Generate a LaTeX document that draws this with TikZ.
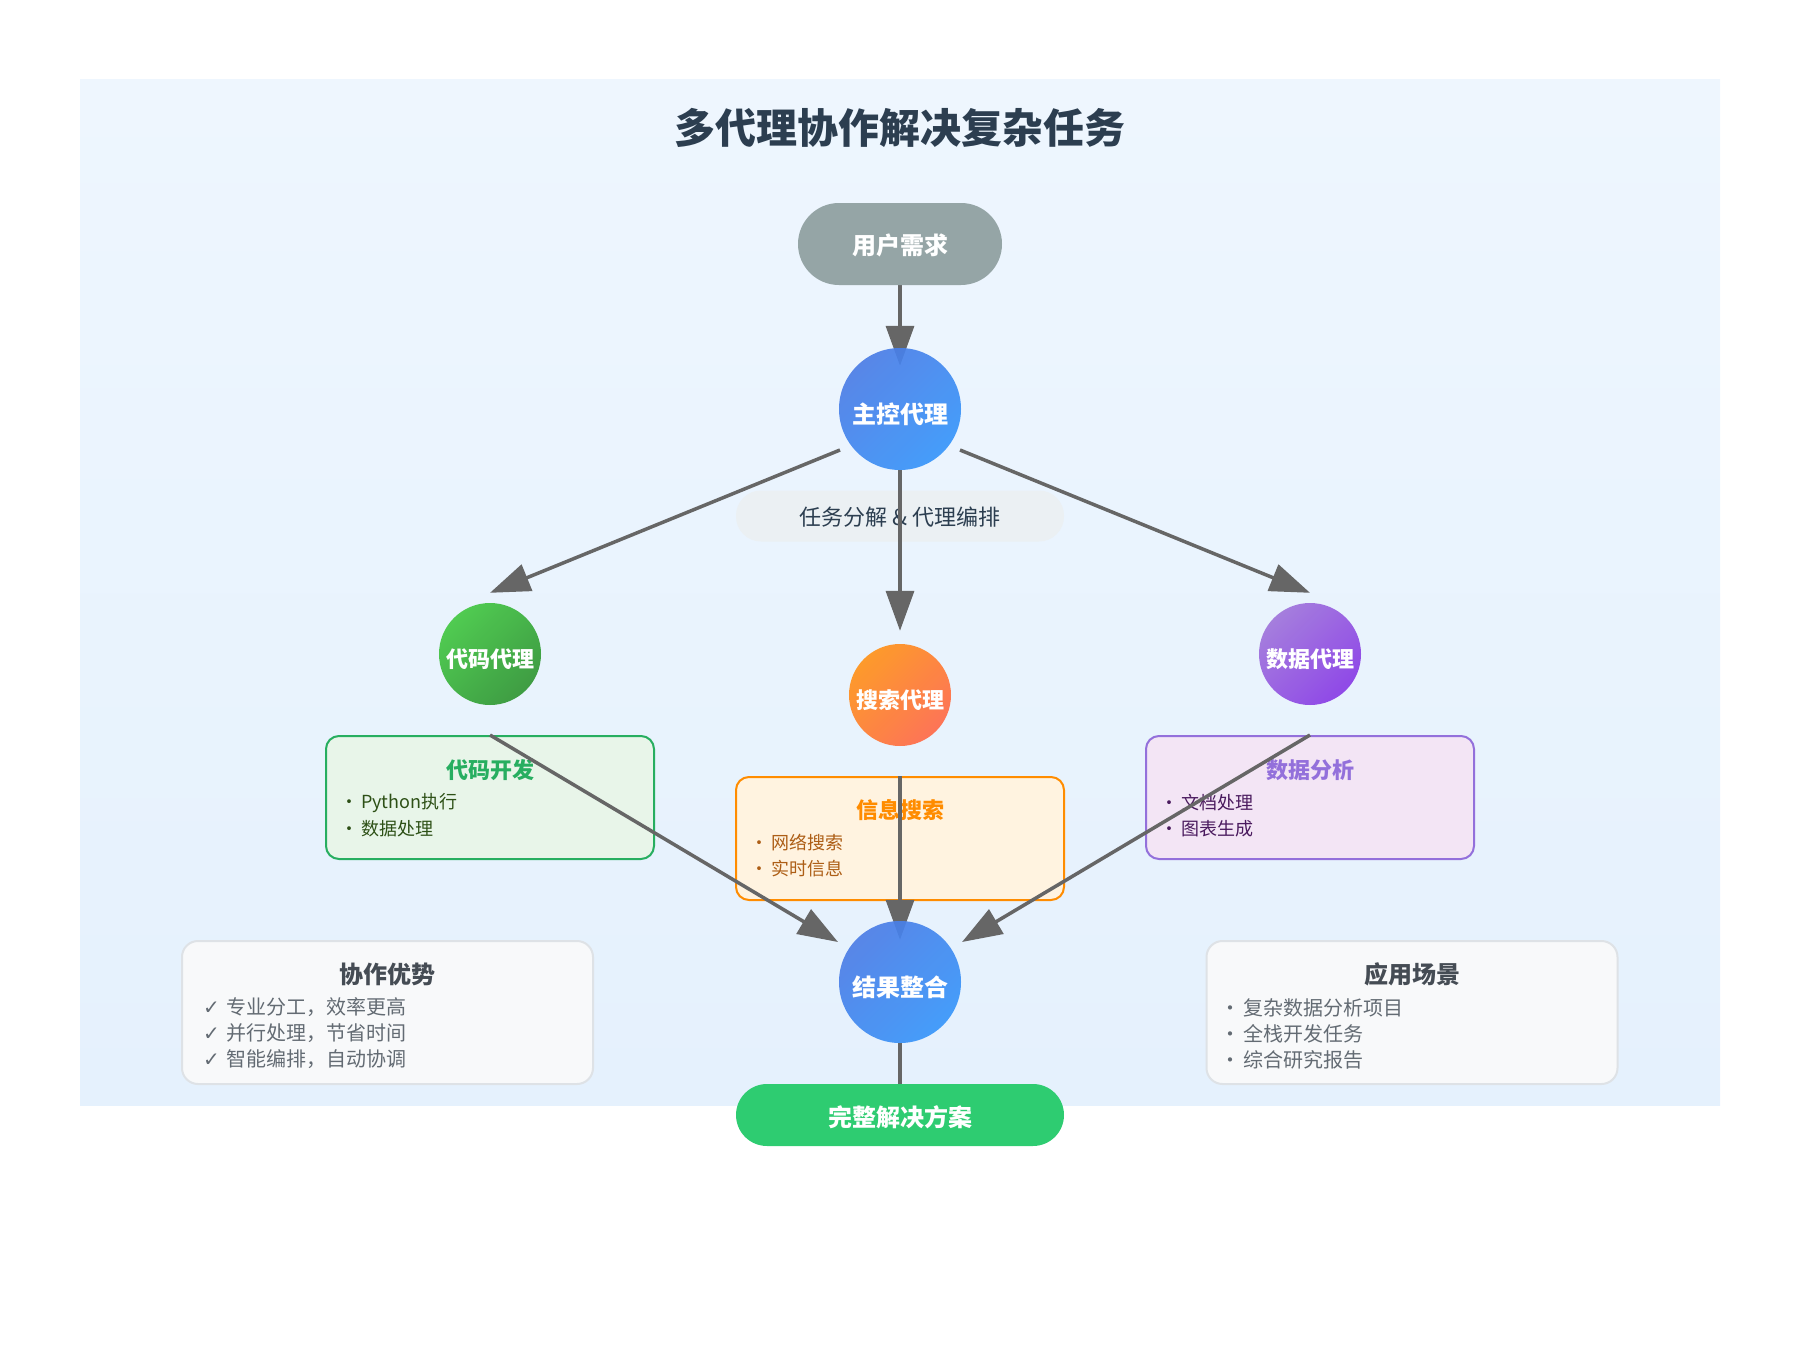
\documentclass[tikz,border=0pt]{standalone}
\usepackage{fontspec}
\setmainfont{Noto Sans CJK SC}
\newfontfamily\symfont{DejaVu Sans}
\usetikzlibrary{arrows.meta,calc}
\pgfdeclarelayer{bglayer}
\pgfdeclarelayer{boxlayer}
\pgfdeclarelayer{linelayer}
\pgfsetlayers{bglayer,boxlayer,linelayer,main}
\newcommand\fsz[1]{\fontsize{#1}{#1}\selectfont}
\newcommand\lowr[2]{\raisebox{-#1}[\height][\depth]{#2}}
\newcommand\bul[1]{\makebox[#1][c]{•}}
\newcommand\chk{\makebox[23pt][l]{\symfont\fsz{20}✓}}
\definecolor{panelTop}{HTML}{EEF6FE}
\definecolor{panelBot}{HTML}{E5F1FD}
\definecolor{titlec}{HTML}{2C3E50}
\definecolor{userc}{HTML}{95A5A6}
\definecolor{blueA}{HTML}{4C7DE6}
\definecolor{blueB}{HTML}{3896FA}
\definecolor{greenA}{HTML}{48C948}
\definecolor{greenB}{HTML}{36983A}
\definecolor{orangeA}{HTML}{FF9620}
\definecolor{orangeB}{HTML}{FF6E4E}
\definecolor{purpleA}{HTML}{A278DC}
\definecolor{purpleB}{HTML}{8B40E6}
\definecolor{arrowc}{HTML}{666666}
\definecolor{labelc}{HTML}{EBF0F3}
\definecolor{gbox}{HTML}{E8F5E9}
\definecolor{gline}{HTML}{27AE60}
\definecolor{gitem}{HTML}{2D5016}
\definecolor{obox}{HTML}{FFF3E0}
\definecolor{oline}{HTML}{FF8C00}
\definecolor{oitem}{HTML}{AD5E16}
\definecolor{pbox}{HTML}{F3E5F5}
\definecolor{pline}{HTML}{9370DB}
\definecolor{pitem}{HTML}{4A1A5E}
\definecolor{finalc}{HTML}{2ECC71}
\definecolor{notebg}{HTML}{F8F9FA}
\definecolor{noteline}{HTML}{DEE2E6}
\definecolor{notetitle}{HTML}{454C54}
\definecolor{noteitem}{HTML}{636B73}
\begin{document}
\begin{tikzpicture}[x=1pt,y=-1pt,
  agentbig/.style={circle, minimum size=122pt, inner sep=0pt, text=white, font=\fsz{24}\bfseries, fill opacity=0.92, text opacity=1},
  agentsmall/.style={circle, minimum size=102pt, inner sep=0pt, text=white, font=\fsz{22}\bfseries, fill opacity=0.95, text opacity=1},
  pillbox/.style={rectangle, inner sep=0pt, text=white, font=\fsz{24}\bfseries},
  infobox/.style={rectangle, rounded corners=13pt, line width=2pt, minimum width=328pt, minimum height=123pt, inner sep=0pt},
  notebox/.style={rectangle, rounded corners=16pt, line width=2pt, draw=noteline, fill=notebg, minimum width=411pt, minimum height=143pt, inner sep=0pt},
  boxtitle/.style={font=\fsz{22}\bfseries, inner sep=0pt},
  boxitem/.style={font=\fsz{18}, anchor=west, inner sep=0pt},
  notetitlest/.style={font=\fsz{24}\bfseries, text=notetitle, inner sep=0pt},
  noteitemst/.style={font=\fsz{20}, text=noteitem, anchor=west, inner sep=0pt},
  conn/.style={draw=arrowc, line width=3.5pt, -{Triangle[length=40pt,width=28pt]}},
  plainconn/.style={draw=arrowc, line width=3.5pt}
]
\useasboundingbox (0,0) rectangle (1800,1346);
\begin{pgfonlayer}{bglayer}
  \shade[top color=panelTop, bottom color=panelBot] (80,80) rectangle (1720,1105);
\end{pgfonlayer}

% title
\node[font=\fsz{41}\bfseries, text=titlec, inner sep=0pt] (title) at (900,128) {多代理协作解决复杂任务};

% top pill and main agent
\node[pillbox, fill=userc, minimum width=204pt, minimum height=82pt, rounded corners=41pt] (user) at (900,244) {\lowr{1.5pt}{用户需求}};
\node[agentbig, top color=blueA, bottom color=blueB, shading angle=45] (main) at (900,409) {\lowr{5pt}{主控代理}};

% agents
\node[agentsmall, top color=greenA, bottom color=greenB, shading angle=45] (code) at (490,654) {\lowr{5.5pt}{代码代理}};
\node[agentsmall, top color=orangeA, bottom color=orangeB, shading angle=45] (search) at (900,695) {\lowr{5.5pt}{搜索代理}};
\node[agentsmall, top color=purpleA, bottom color=purpleB, shading angle=45] (data) at (1310,654) {\lowr{5.5pt}{数据代理}};

% result and final
\node[agentbig, top color=blueA, bottom color=blueB, shading angle=45] (result) at (900,982) {\lowr{5.5pt}{结果整合}};
\node[pillbox, fill=finalc, minimum width=328pt, minimum height=62pt, rounded corners=31pt] (final) at (900,1115) {\lowr{2pt}{完整解决方案}};

% boxes and label pill
\begin{pgfonlayer}{boxlayer}
  \node[rectangle, rounded corners=25pt, fill=labelc, minimum width=328pt, minimum height=51pt, inner sep=0pt, font=\fsz{22}, text=titlec] (lbl) at (900,516) {\lowr{1pt}{任务分解 \& 代理编排}};

  \node[infobox, draw=gline, fill=gbox] (codebox) at (490,797.5) {};
  \node[boxtitle, text=gline] (codet) at ($(codebox.north)+(0,35)$) {代码开发};
  \node[boxitem, text=gitem] (codei1) at ($(codebox.north west)+(12,68)$) {\bul{24pt}Python执行};
  \node[boxitem, text=gitem] (codei2) at ($(codebox.north west)+(12,94)$) {\bul{24pt}数据处理};

  \node[infobox, draw=oline, fill=obox] (searchbox) at (900,838.5) {};
  \node[boxtitle, text=oline] (searcht) at ($(searchbox.north)+(0,34)$) {信息搜索};
  \node[boxitem, text=oitem] (searchi1) at ($(searchbox.north west)+(12,67)$) {\bul{24pt}网络搜索};
  \node[boxitem, text=oitem] (searchi2) at ($(searchbox.north west)+(12,93)$) {\bul{24pt}实时信息};

  \node[infobox, draw=pline, fill=pbox] (databox) at (1310,797.5) {};
  \node[boxtitle, text=pline] (datat) at ($(databox.north)+(0,35)$) {数据分析};
  \node[boxitem, text=pitem] (datai1) at ($(databox.north west)+(12,68)$) {\bul{24pt}文档处理};
  \node[boxitem, text=pitem] (datai2) at ($(databox.north west)+(12,94)$) {\bul{24pt}图表生成};

  \node[notebox] (advbox) at (387.5,1012.5) {};
  \node[notetitlest] (advt) at ($(advbox.north)+(0,34)$) {协作优势};
  \node[noteitemst] (adv1) at ($(advbox.north west)+(22,67)$) {\chk 专业分工，效率更高};
  \node[noteitemst] (adv2) at ($(advbox.north west)+(22,93)$) {\chk 并行处理，节省时间};
  \node[noteitemst] (adv3) at ($(advbox.north west)+(22,119)$) {\chk 智能编排，自动协调};

  \node[notebox] (usebox) at (1412,1012.5) {};
  \node[notetitlest] (uset) at ($(usebox.north)+(0,34)$) {应用场景};
  \node[noteitemst] (use1) at ($(usebox.north west)+(12,68)$) {\bul{26pt}复杂数据分析项目};
  \node[noteitemst] (use2) at ($(usebox.north west)+(12,94)$) {\bul{26pt}全栈开发任务};
  \node[noteitemst] (use3) at ($(usebox.north west)+(12,120)$) {\bul{26pt}综合研究报告};
\end{pgfonlayer}

% connectors
\begin{pgfonlayer}{linelayer}
  \draw[conn] (user.south) -- ($(main.north)+(0,18)$);
  \draw[conn] ($(main.center)+(-60,41)$) -- ($(code.north)+(0,-10)$);
  \draw[conn] (main.south) -- ($(search.north)+(0,-13)$);
  \draw[conn] ($(main.center)+(60,41)$) -- ($(data.north)+(0,-10)$);
  \draw[conn] (codebox.north) -- ($(result.center)+(-62,-40)$);
  \draw[conn] (searchbox.north) -- ($(result.north)+(0,19)$);
  \draw[conn] (databox.north) -- ($(result.center)+(62,-40)$);
  \draw[plainconn] (result.south) -- (final.north);
\end{pgfonlayer}
\end{tikzpicture}
\end{document}
